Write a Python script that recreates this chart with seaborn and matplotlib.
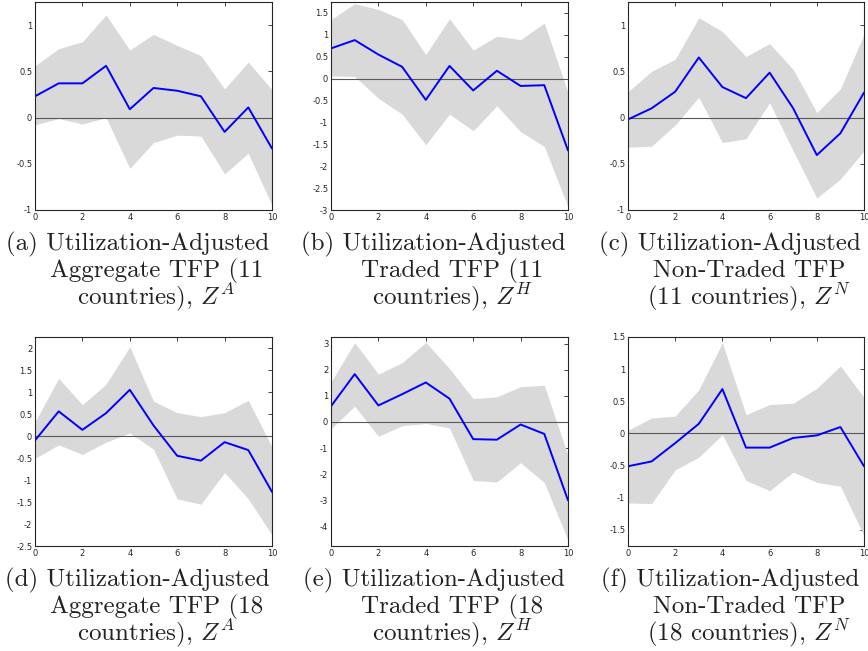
import numpy as np
import pandas as pd
import matplotlib
matplotlib.use("Agg")
import matplotlib.pyplot as plt
import seaborn as sns
from matplotlib.ticker import FuncFormatter, MultipleLocator

horizon = list(range(11))

# (a) aggregate TFP, 11 countries
za11_mid = [0.23, 0.37, 0.37, 0.56, 0.09, 0.32, 0.29, 0.23, -0.155, 0.11, -0.335]
za11_hi = [0.56, 0.745, 0.82, 1.11, 0.73, 0.90, 0.78, 0.67, 0.31, 0.60, 0.30]
za11_lo = [-0.08, -0.01, -0.07, 0.0, -0.55, -0.27, -0.19, -0.20, -0.61, -0.385, -0.95]

# (b) traded TFP, 11 countries
zh11_mid = [0.69, 0.88, 0.55, 0.27, -0.485, 0.29, -0.27, 0.18, -0.167, -0.15, -1.64]
zh11_hi = [1.35, 1.71, 1.58, 1.35, 0.55, 1.37, 0.65, 0.97, 0.89, 1.27, -0.32]
zh11_lo = [0.06, 0.05, -0.45, -0.81, -1.51, -0.81, -1.19, -0.62, -1.21, -1.55, -2.93]

# (c) non-traded TFP, 11 countries
zn11_mid = [-0.02, 0.10, 0.28, 0.65, 0.33, 0.21, 0.486, 0.10, -0.406, -0.17, 0.27]
zn11_hi = [0.28, 0.50, 0.63, 1.08, 0.93, 0.66, 0.80, 0.52, 0.054, 0.31, 0.90]
zn11_lo = [-0.32, -0.31, -0.08, 0.22, -0.27, -0.23, 0.16, -0.36, -0.87, -0.665, -0.36]

# (d) aggregate TFP, 18 countries
za18_mid = [-0.10, 0.56, 0.14, 0.52, 1.05, 0.24, -0.45, -0.56, -0.14, -0.32, -1.27]
za18_hi = [0.32, 1.31, 0.71, 1.18, 2.03, 0.79, 0.53, 0.44, 0.53, 0.81, -0.25]
za18_lo = [-0.51, -0.20, -0.42, -0.14, 0.07, -0.30, -1.43, -1.55, -0.83, -1.43, -2.25]

# (e) traded TFP, 18 countries
zh18_mid = [0.60, 1.83, 0.63, 1.06, 1.51, 0.89, -0.66, -0.68, -0.10, -0.46, -3.0]
zh18_hi = [1.53, 3.04, 1.83, 2.27, 3.04, 2.04, 0.89, 0.96, 1.35, 1.40, -1.28]
zh18_lo = [-0.26, 0.60, -0.55, -0.15, -0.06, -0.23, -2.24, -2.30, -1.56, -2.32, -4.53]

# (f) non-traded TFP, 18 countries
zn18_mid = [-0.51, -0.435, -0.15, 0.15, 0.69, -0.22, -0.22, -0.07, -0.03, 0.10, -0.51]
zn18_hi = [0.05, 0.24, 0.27, 0.68, 1.41, 0.29, 0.45, 0.47, 0.70, 1.05, 0.56]
zn18_lo = [-1.08, -1.09, -0.565, -0.37, -0.02, -0.73, -0.89, -0.60, -0.76, -0.82, -1.59]

captions = [
    ["(a) Utilization-Adjusted", "Aggregate TFP (11", r"countries), $Z^A$"],
    ["(b) Utilization-Adjusted", "Traded TFP (11", r"countries), $Z^H$"],
    ["(c) Utilization-Adjusted", "Non-Traded TFP", r"(11 countries), $Z^N$"],
    ["(d) Utilization-Adjusted", "Aggregate TFP (18", r"countries), $Z^A$"],
    ["(e) Utilization-Adjusted", "Traded TFP (18", r"countries), $Z^H$"],
    ["(f) Utilization-Adjusted", "Non-Traded TFP", r"(18 countries), $Z^N$"],
]

panels = [
    (za11_mid, za11_hi, za11_lo, (-1, 1.25), 0.5),
    (zh11_mid, zh11_hi, zh11_lo, (-3, 1.75), 0.5),
    (zn11_mid, zn11_hi, zn11_lo, (-1, 1.25), 0.5),
    (za18_mid, za18_hi, za18_lo, (-2.5, 2.25), 0.5),
    (zh18_mid, zh18_hi, zh18_lo, (-4.75, 3.25), 1),
    (zn18_mid, zn18_hi, zn18_lo, (-1.75, 1.5), 0.5),
]

sns.set_style("white")
plt.rcParams["mathtext.fontset"] = "cm"
plt.rcParams["font.family"] = ["DejaVu Sans"]

W, H = 868, 651
fig = plt.figure(figsize=(W / 100, H / 100), dpi=100)

# axes boxes in pixels: left, right, top, bottom
col_x = [(35, 272), (331, 568), (628, 864)]
row_y = [(2, 210), (337, 546)]

fmt = FuncFormatter(lambda v, p: ("%g" % round(v, 2)).replace("\u2212", "-"))

for i, (mid, hi, lo, ylim, step) in enumerate(panels):
    r, c = divmod(i, 3)
    x0, x1 = col_x[c]
    y0, y1 = row_y[r]
    ax = fig.add_axes([x0 / W, 1 - y1 / H, (x1 - x0) / W, (y1 - y0) / H])

    df = pd.DataFrame({"h": horizon, "mid": mid, "hi": hi, "lo": lo})
    ax.fill_between(df["h"], df["lo"], df["hi"], color="#d9d9d9", lw=0)
    ax.axhline(0, color="#595959", lw=0.8)
    sns.lineplot(data=df, x="h", y="mid", ax=ax, color="#0000ff", lw=1.4)

    ax.set_xlim(0, 10)
    ax.set_ylim(*ylim)
    ax.xaxis.set_major_locator(MultipleLocator(2))
    ax.yaxis.set_major_locator(MultipleLocator(step))
    ax.yaxis.set_major_formatter(fmt)
    ax.xaxis.set_major_formatter(fmt)
    ax.set_xlabel("")
    ax.set_ylabel("")
    ax.tick_params(direction="in", length=3, width=0.6, top=True, right=True,
                   labelsize=6, colors="#262626", pad=2)
    for s in ax.spines.values():
        s.set_color("#262626")
        s.set_linewidth(0.8)

    # caption below the panel
    xc = (x0 + x1) / 2
    base = y1 + 40
    lines = captions[i]
    fig.text((xc - 16) / W, 1 - base / H, lines[0], ha="center", va="baseline",
             family="cmr10", fontsize=18, color="#222222")
    fig.text((xc + 3) / W, 1 - (base + 27) / H, lines[1], ha="center", va="baseline",
             family="cmr10", fontsize=18, color="#222222")
    fig.text((xc + 3) / W, 1 - (base + 54) / H, lines[2], ha="center", va="baseline",
             family="cmr10", fontsize=18, color="#222222")

fig.savefig("out.png", dpi=100)
